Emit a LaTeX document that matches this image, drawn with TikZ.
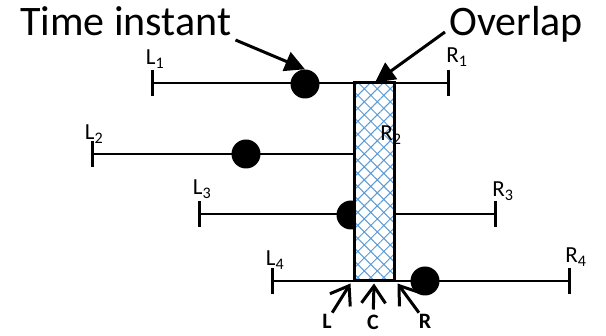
\documentclass[tikz,border=0pt]{standalone}
\usepackage{fontspec}
\setmainfont{Carlito}
\usetikzlibrary{arrows.meta,patterns.meta}
\definecolor{hatchblue}{RGB}{91,155,213}

\tikzset{
  interval/.style={line width=2.6pt, {Bar[width=26pt]}-{Bar[width=26pt]}},
  instant/.style={circle, fill=black, inner sep=0pt, minimum size=29pt},
  endlabel/.style={font=\fontsize{23}{26}\selectfont, inner sep=0pt},
  bigtext/.style={font=\fontsize{42}{46}\selectfont, inner sep=0pt},
  pointer/.style={line width=3pt, -{Triangle[length=20pt,width=20pt]}},
  barb/.style={line width=3pt, -{Straight Barb[length=17pt,width=24pt]}},
  cornerlabel/.style={font=\bfseries\fontsize{22}{24}\selectfont, inner sep=1pt},
  overlapbox/.style={draw, line width=3pt, minimum width=40pt, minimum height=198pt,
    preaction={fill=white}, pattern={Hatch[angle=45,distance=9.2pt,line width=1pt]},
    pattern color=hatchblue},
}

\begin{document}
\begin{tikzpicture}[x=1pt, y=-1pt]
    % Keep the page the size of the drawing
    \useasboundingbox (0,0) rectangle (606,336);

    % End points of the four intervals
    \coordinate (L1) at (151,83);  \coordinate (R1) at (450,83);
    \coordinate (L2) at (91,154);  \coordinate (R2) at (394,154);
    \coordinate (L3) at (198,214); \coordinate (R3) at (497,214);
    \coordinate (L4) at (271,281); \coordinate (R4) at (571,281);

    % The intervals
    \draw[interval] (L1) -- (R1);
    \draw[interval] (L2) -- (R2);
    \draw[interval] (L3) -- (R3);
    \draw[interval] (L4) -- (R4);

    % Time instants on each interval
    \node[instant] (d1) at (305,84) {};
    \node[instant] (d2) at (246,154) {};
    \node[instant] (d3) at (351,215) {};
    \node[instant] (d4) at (425,281) {};

    % The overlap of all intervals
    \node[overlapbox] (ov) at (374,182) {};

    % Names of the end points
    \node[endlabel] (l1) at (155,59) {L\textsubscript{1}};
    \node[endlabel] (r1) at (457,57) {R\textsubscript{1}};
    \node[endlabel] (l2) at (94,134) {L\textsubscript{2}};
    \node[endlabel] (r2) at (391,135) {R\textsubscript{2}};
    \node[endlabel] (l3) at (202,189) {L\textsubscript{3}};
    \node[endlabel] (r3) at (503,191) {R\textsubscript{3}};
    \node[endlabel] (l4) at (275,260) {L\textsubscript{4}};
    \node[endlabel] (r4) at (576,257) {R\textsubscript{4}};

    % Captions with their arrows
    \node[bigtext, anchor=base west] (timeinst) at (20,36) {Time instant};
    \node[bigtext, anchor=base west] (ovtext) at (449,36) {Overlap};
    \draw[pointer] ([shift={(4pt,-4pt)}]timeinst.base east) -- (d1.north);
    \draw[pointer] ([shift={(-4pt,4pt)}]ovtext.base west) -- ([xshift=1pt]ov.north);

    % Left, centre and right of the overlap
    \node[cornerlabel] (cL) at (327,321) {L};
    \node[cornerlabel] (cC) at (373,322) {C};
    \node[cornerlabel] (cR) at (425,321) {R};
    \draw[barb] (cL) -- ([xshift=-3pt,yshift=-2pt]ov.south west);
    \draw[barb, shorten <=4pt] (cC) -- ([yshift=-2pt]ov.south);
    \draw[barb] (cR) -- ([xshift=3pt,yshift=-2pt]ov.south east);
\end{tikzpicture}
\end{document}
